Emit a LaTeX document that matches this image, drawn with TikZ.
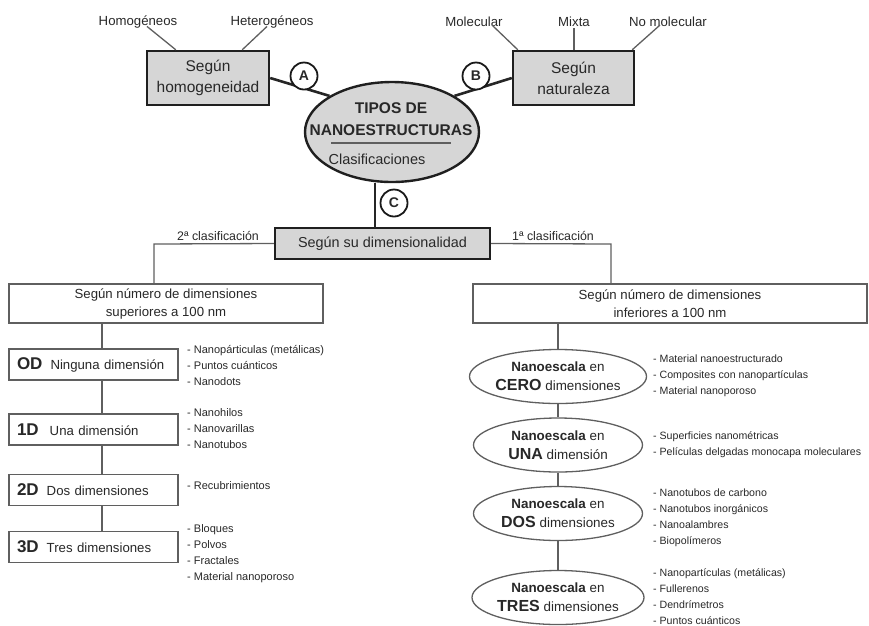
\documentclass[tikz,border=0pt]{standalone}
\usepackage{fontspec}
\setmainfont{Liberation Sans}
\usetikzlibrary{shapes.geometric,calc}
\definecolor{boxgray}{RGB}{214,214,214}
\definecolor{linegray}{RGB}{95,95,95}
\definecolor{txt}{RGB}{40,40,40}
\newcommand\dlabfont{\fontsize{17}{17}\selectfont\bfseries}
\begin{document}
\begin{tikzpicture}[x=1pt,y=-1pt,
  every node/.style={text=txt},
  topbox/.style={draw=black!88, line width=2.4pt, fill=boxgray, minimum width=122pt, minimum height=54pt, align=center, font=\fontsize{15.5}{21}\selectfont, inner sep=0pt},
  letter/.style={circle, draw=black!90, line width=1.8pt, fill=white, minimum size=27pt, inner sep=0pt, font=\fontsize{14}{14}\selectfont\bfseries},
  thick line/.style={draw=black!85, line width=2.6pt},
  thin line/.style={draw=linegray, line width=1.3pt},
  leaf/.style={font=\fontsize{13.2}{14}\selectfont, inner sep=1pt},
  dimbox/.style={draw=linegray, line width=1.3pt, fill=white, minimum width=169pt, minimum height=31pt, text width=153pt, align=left, inner xsep=8pt, inner ysep=0pt, font=\fontsize{13.2}{16}\selectfont},
  hdr/.style={draw=linegray, line width=1.3pt, fill=white, minimum height=39pt, align=center, inner sep=0pt, font=\fontsize{13.2}{18}\selectfont},
  nano/.style={ellipse, draw=linegray, line width=1.3pt, fill=white, minimum width=169pt, minimum height=54pt, inner sep=0pt, align=center, font=\fontsize{13.4}{19}\selectfont},
  items/.style={anchor=west, align=left, font=\fontsize{10.6}{16}\selectfont, inner sep=0pt},
  litems/.style={items, font=\fontsize{11}{16}\selectfont}
]
\useasboundingbox (0,0) rectangle (869,625);

% ---------- top part ----------
\node[topbox] (hom) at (208,78) {Según\\homogeneidad};
\node[topbox, minimum width=121pt] (nat) at (573.5,78) {Según\\naturaleza};
\node[leaf] (thom) at (138,22) {Homogéneos};
\node[leaf] (thet) at (272,22) {Heterogéneos};
\node[leaf] (tmol) at (474,22) {Molecular};
\node[leaf] (tmix) at (574,22) {Mixta};
\node[leaf] (tnom) at (668,22) {No molecular};

\draw[thin line] ($(thom.south)+(9,-3)$) -- ($(hom.north west)+(30,0)$);
\draw[thin line] ($(thet.south)+(-5,-3)$) -- ($(hom.north east)+(-28,0)$);
\draw[thin line] ($(tmol.south)+(18,-3)$) -- ($(nat.north west)+(6,0)$);
\draw[thin line] (tmix.south) -- (tmix.south |- nat.north);
\draw[thin line] ($(tnom.south)+(-8,-3)$) -- ($(nat.north east)+(-3,0)$);

\node[ellipse, draw=black!88, line width=2.4pt, fill=boxgray, minimum width=174pt, minimum height=100pt] (main) at (392,132) {};
\draw[thick line] (hom.east) -- (main.150);
\draw[thick line] (nat.west) -- (main.30);
\node[font=\fontsize{15.5}{15.5}\selectfont\bfseries] (t1) at (391,108) {TIPOS DE};
\node[font=\fontsize{15.5}{15.5}\selectfont\bfseries] (t2) at (391,130) {NANOESTRUCTURAS};
\draw[draw=linegray, line width=1.4pt] (331,143) -- (451,143);
\node[font=\fontsize{14.5}{14.5}\selectfont] (t3) at (377,159) {Clasificaciones};

\node[letter] (A) at (304,76) {A};
\node[letter] (B) at (476,76) {B};

% ---------- dimensionality ----------
\node[topbox, minimum width=215pt, minimum height=31pt, font=\fontsize{14.4}{16}\selectfont] (dim) at (382.5,243.5) {Según su dimensionalidad};
\coordinate (cc) at (375,228);
\draw[thick line] (cc |- main.south) -- (cc);
\node[letter] (C) at (394,203) {C};

\node[hdr, minimum width=314pt] (lb) at (166,303.5) {Según número de dimensiones\\superiores a 100 nm};
\node[hdr, minimum width=394pt] (rb) at (670,303.5) {Según número de dimensiones\\inferiores a 100 nm};

\coordinate (lc) at (154,244);
\coordinate (rc) at (611,244);
\draw[thin line] (dim.west) -- (lc) -- (lc |- lb.north);
\draw[thin line] (dim.east) -- (rc) -- (rc |- rb.north);
\node[leaf, anchor=south, font=\fontsize{12.4}{14}\selectfont] (c2) at (218,242) {2ª clasificación};
\node[leaf, anchor=south, font=\fontsize{12.4}{14}\selectfont] (c1) at (553,242) {1ª clasificación};

% ---------- left column ----------
\node[dimbox] (d0) at (93.5,364.5) {{\dlabfont OD}\hspace{8pt}Ninguna dimensión};
\node[dimbox] (d1) at (93.5,429.5) {{\dlabfont 1D}\hspace{11pt}Una dimensión};
\node[dimbox] (d2) at (93.5,490) {{\dlabfont 2D}\hspace{8pt}Dos dimensiones};
\node[dimbox] (d3) at (93.5,547) {{\dlabfont 3D}\hspace{8pt}Tres dimensiones};
\coordinate (lt) at (102,0);
\draw[thin line] (lt |- lb.south) -- (lt |- d0.north);
\draw[thin line] (lt |- d0.south) -- (lt |- d1.north);
\draw[thin line] (lt |- d1.south) -- (lt |- d2.north);
\draw[thin line] (lt |- d2.south) -- (lt |- d3.north);

\node[litems] (l0) at (187,365) {- Nanopárticulas (metálicas)\\- Puntos cuánticos\\- Nanodots};
\node[litems] (l1) at (187,429) {- Nanohilos\\- Nanovarillas\\- Nanotubos};
\node[litems] (l2) at (187,486) {- Recubrimientos};
\node[litems] (l3) at (187,554) {- Bloques\\- Polvos\\- Fractales\\- Material nanoporoso};

% ---------- right column ----------
\node[nano] (n0) at (558,376.5) {\textbf{Nanoescala} en\\{\bfseries\fontsize{16}{16}\selectfont CERO} dimensiones};
\node[nano] (n1) at (558,445) {\textbf{Nanoescala} en\\{\bfseries\fontsize{16}{16}\selectfont UNA} dimensión};
\node[nano] (n2) at (558,513.5) {\textbf{Nanoescala} en\\{\bfseries\fontsize{16}{16}\selectfont DOS} dimensiones};
\node[nano] (n3) at (558,597.5) {\textbf{Nanoescala} en\\{\bfseries\fontsize{16}{16}\selectfont TRES} dimensiones};
\draw[thin line] (n0.north |- rb.south) -- (n0.north);
\draw[thin line] (n0.south) -- (n1.north);
\draw[thin line] (n1.south) -- (n2.north);
\draw[thin line] (n2.south) -- (n3.north);

\node[items] (r0) at (653,376) {- Material nanoestructurado\\- Composites con nanopartículas\\- Material nanoporoso};
\node[items] (r1) at (653,444.5) {- Superficies nanométricas\\- Películas delgadas monocapa moleculares};
\node[items] (r2) at (653,517.5) {- Nanotubos de carbono\\- Nanotubos inorgánicos\\- Nanoalambres\\- Biopolímeros};
\node[items] (r3) at (653,596.5) {- Nanopartículas (metálicas)\\- Fullerenos\\- Dendrímetros\\- Puntos cuánticos};
\end{tikzpicture}
\end{document}
